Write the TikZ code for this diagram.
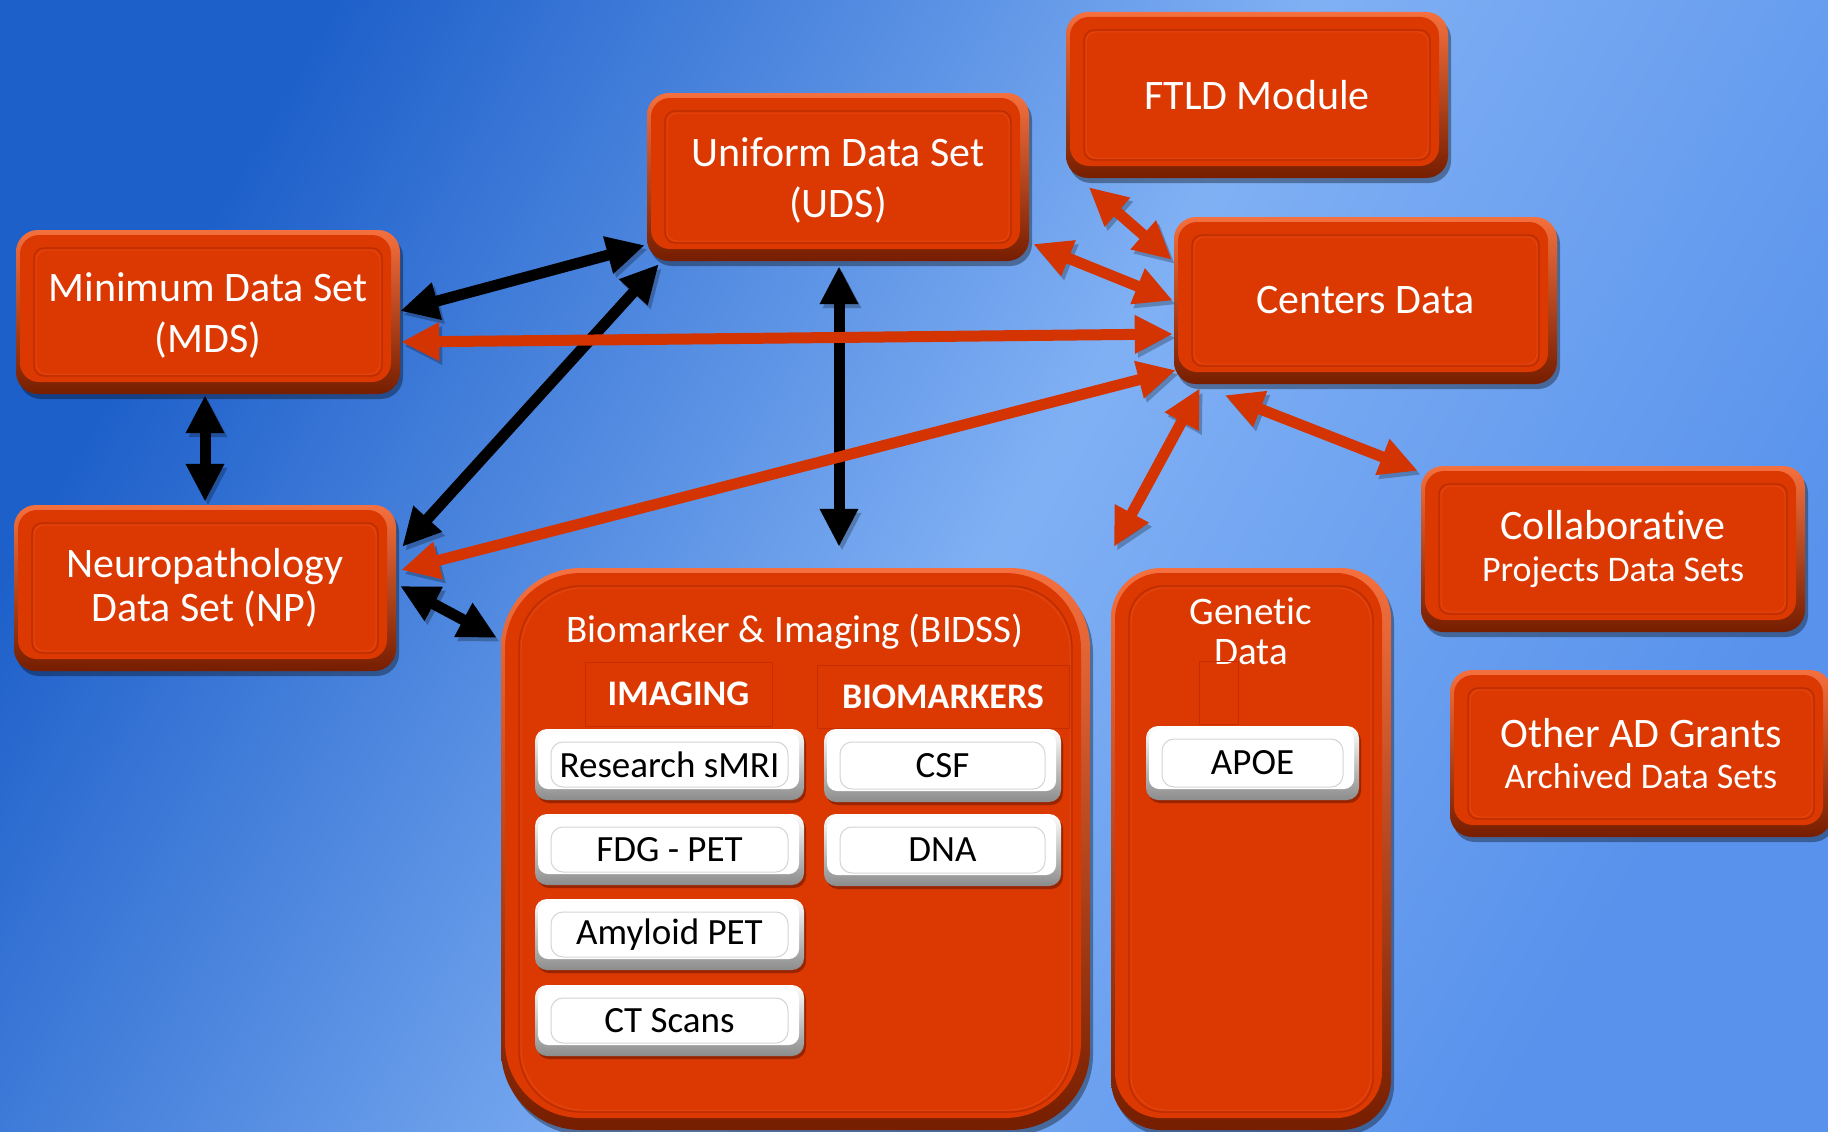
\documentclass[tikz,border=0pt]{standalone}
\usepackage{fontspec}
\setmainfont{Carlito}[Ligatures={NoCommon}]
\usetikzlibrary{arrows.meta,calc,shadows}
\definecolor{bgA}{RGB}{30,96,202}
\definecolor{bgB}{RGB}{128,176,244}
\definecolor{bgC}{RGB}{88,146,236}
\definecolor{boxred}{RGB}{219,56,2}
\definecolor{bevtop}{RGB}{245,112,62}
\definecolor{bevbot}{RGB}{118,30,0}
\definecolor{framedark}{RGB}{185,45,0}
\definecolor{framelight}{RGB}{228,70,18}
\definecolor{arrowred}{RGB}{212,52,2}
\definecolor{wbot}{RGB}{140,140,140}
\definecolor{wframe}{RGB}{212,212,212}
\definecolor{wshadow}{RGB}{110,25,0}
\definecolor{hdrline}{RGB}{196,46,0}
\pgfdeclarehorizontalshading{bgshade}{100bp}{color(0bp)=(bgA); color(25bp)=(bgA); color(52bp)=(bgB); color(75bp)=(bgC); color(100bp)=(bgC)}
\begin{document}
\begin{tikzpicture}[x=1pt,y=-1pt,
  redbevel/.style n args={3}{rectangle, rounded corners=#1, top color=bevtop, bottom color=bevbot, draw=none,
    drop shadow={shadow xshift=3pt, shadow yshift=-5pt, opacity=.35, fill=black},
    path picture={
      \fill[boxred, rounded corners=#2] ([shift={(4pt,12pt)}]path picture bounding box.south west) rectangle ([shift={(-9pt,-5pt)}]path picture bounding box.north east);
      \draw[framedark, line width=1.3pt, rounded corners=#3] ([shift={(18pt,18pt)}]path picture bounding box.south west) rectangle ([shift={(-18pt,-18pt)}]path picture bounding box.north east);
      \draw[framelight, line width=1pt, rounded corners=#3] ([shift={(20pt,20pt)}]path picture bounding box.south west) rectangle ([shift={(-20pt,-20pt)}]path picture bounding box.north east);
    },
    text=white, inner sep=0pt, align=center},
  smallbox/.style={redbevel={22pt}{19pt}{10pt}, font=\fontsize{42}{51}\selectfont},
  whitebevel/.style={rectangle, rounded corners=12pt, top color=white, bottom color=wbot, draw=none,
    drop shadow={shadow xshift=2pt, shadow yshift=-3pt, opacity=.6, fill=wshadow},
    path picture={
      \fill[white, rounded corners=10pt] ([shift={(3pt,11pt)}]path picture bounding box.south west) rectangle ([shift={(-5pt,-3pt)}]path picture bounding box.north east);
      \draw[wframe, line width=1pt] ([shift={(16pt,13pt)}]path picture bounding box.south west) rectangle ([shift={(-16pt,-13pt)}]path picture bounding box.north east);
    },
    text=black, inner sep=0pt, font=\fontsize{37}{44}\selectfont},
  hdr/.style={rectangle, draw=hdrline, line width=1pt, inner sep=0pt, text=white, font=\bfseries\fontsize{36}{42}\selectfont},
  dblarrow/.style={line width=11pt, {Triangle[length=38pt,width=36pt]}-{Triangle[length=38pt,width=36pt]},
    preaction={draw=black, opacity=.25, {Triangle[length=38pt,width=36pt]}-{Triangle[length=38pt,width=36pt]}, transform canvas={shift={(3pt,-4pt)}}}},
  blackarr/.style={dblarrow, draw=black},
  redarr/.style={dblarrow, draw=arrowred}
]
\useasboundingbox (0,0) rectangle (1828,1132);
\clip (0,0) rectangle (1828,1132);
\shade[shading=bgshade, shading angle=-30] (0,0) rectangle (1828,1132);

% containers
\node[redbevel={80pt}{76pt}{62pt}, minimum width=589pt, minimum height=562pt] (bidss) at (795.5,849) {};
\node[redbevel={50pt}{46pt}{34pt}, minimum width=280pt, minimum height=562pt] (genetic) at (1251,849) {};
\node[text=white, font=\fontsize{39}{46}\selectfont] (bidsstitle) at (795,632) {Biomarker \& Imaging (BIDSS)};
\node[text=white, align=center, font=\fontsize{39}{40}\selectfont] (gentitle) at (1251,631) {Genetic\\Data};

% headers
\node[hdr, minimum width=187pt, minimum height=64pt] (imghdr) at (678.5,694) {IMAGING};
\node[hdr, minimum width=252pt, minimum height=63pt] (biohdr) at (943,696.5) {BIOMARKERS};
\node[hdr, minimum width=39pt, minimum height=63pt] (gensep) at (1218.5,692.5) {};

% white boxes
\node[whitebevel, minimum width=269pt, minimum height=71pt] (smri) at (669.5,764.5) {Research sMRI};
\node[whitebevel, minimum width=269pt, minimum height=71pt] (fdg) at (669.5,849.5) {FDG - PET};
\node[whitebevel, minimum width=269pt, minimum height=71pt] (amy) at (669.5,934.5) {Amyloid PET};
\node[whitebevel, minimum width=269pt, minimum height=71pt] (ct) at (669.5,1020.5) {CT Scans};
\node[whitebevel, minimum width=237pt, minimum height=73pt] (csf) at (942.5,765.5) {CSF};
\node[whitebevel, minimum width=237pt, minimum height=72pt] (dna) at (942.5,850) {DNA};
\node[whitebevel, minimum width=213pt, minimum height=74pt] (apoe) at (1252.5,763) {APOE};

% small boxes
\node[smallbox, minimum width=384pt, minimum height=164pt] (mds) at (208,312) {\strut Minimum Data Set\\(MDS)};
\node[smallbox, minimum width=382pt, minimum height=166pt, font=\fontsize{42}{44}\selectfont] (np) at (205,588) {Neuropathology\\Data Set (NP)};
\node[smallbox, minimum width=382pt, minimum height=168pt] (uds) at (838,177) {\strut Uniform Data Set\\(UDS)};
\node[smallbox, minimum width=382pt, minimum height=166pt] (ftld) at (1257,95) {FTLD Module};
\node[smallbox, minimum width=383pt, minimum height=167pt] (centers) at (1365.5,300.5) {Centers Data};
\node[smallbox, minimum width=384pt, minimum height=166pt, font=\fontsize{36}{42}\selectfont] (collab) at (1613,549) {{\fontsize{42}{50}\selectfont Collaborative}\\Projects Data Sets};
\node[smallbox, minimum width=382pt, minimum height=167pt, font=\fontsize{36}{41}\selectfont] (otherad) at (1641,753.5) {{\fontsize{42}{50}\selectfont Other AD Grants}\\Archived Data Sets};

% connectors
\draw[blackarr] ($(mds.east)+(0,-1)$) -- ($(uds.south west)+(-2,-16)$);
\draw[blackarr] ($(np.north east)+(6,42)$) -- ($(uds.south west)+(12,3)$);
\draw[blackarr] ($(mds.south)+(-3,1)$) -- ($(np.north)+(0,-3)$);
\draw[blackarr] ($(uds.south)+(1,5)$) -- ($(bidss.north)+(43.5,-21)$);
\draw[blackarr] ($(np.east)+(4,-2)$) -- ($(bidss.north west)+(-4,70)$);
\draw[redarr] ($(mds.east)+(1,30)$) -- ($(centers.west)+(-1,33.5)$);
\draw[redarr] ($(np.east)+(5,-18)$) -- ($(centers.south west)+(2,-14)$);
\draw[redarr] ($(uds.east)+(4,67)$) -- ($(centers.west)+(-1,0)$);
\draw[redarr] ($(ftld.south west)+(23,9)$) -- ($(centers.north west)+(-2,43)$);
\draw[redarr] ($(centers.south west)+(26,4)$) -- ($(genetic.north west)+(3,-21)$);
\draw[redarr] ($(centers.south west)+(51,11)$) -- ($(collab.north west)+(-3,5)$);
\end{tikzpicture}
\end{document}
